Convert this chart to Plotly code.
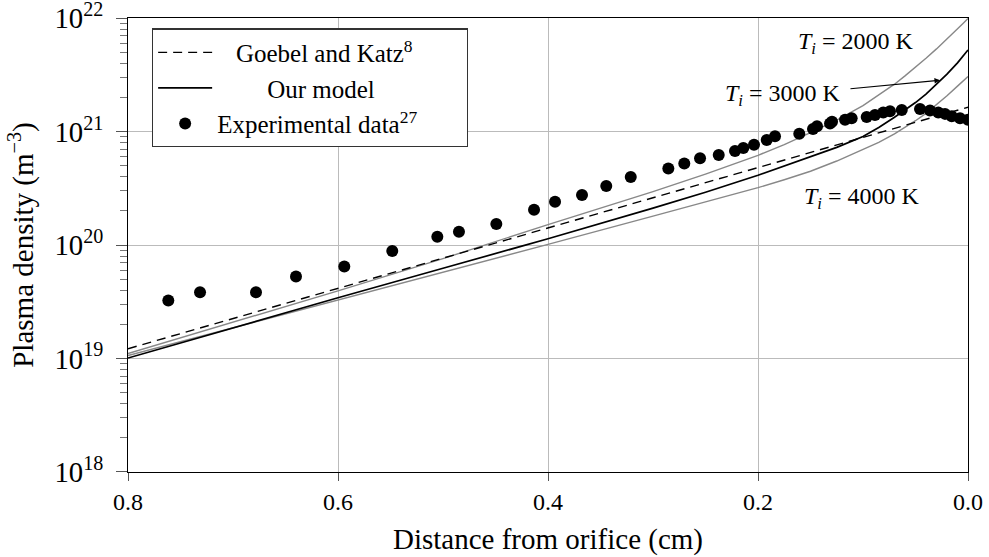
import plotly.graph_objects as go

# ---------------- data ----------------
x_model = [0.8, 0.7, 0.6, 0.5, 0.4, 0.3, 0.25, 0.2, 0.175, 0.15, 0.125, 0.1, 0.085,
           0.07, 0.06, 0.05, 0.04, 0.03, 0.02, 0.01, 0.005, 0.0]
n_goebel = [1.219e19, 2.249e19, 4.150e19, 7.656e19, 1.413e20, 2.606e20, 3.540e20, 4.808e20,
            5.610e20, 6.531e20, 7.621e20, 8.872e20, 9.727e20, 1.067e21, 1.135e21, 1.205e21,
            1.282e21, 1.361e21, 1.449e21, 1.538e21, 1.589e21, 1.637e21]
n_2000 = [1.107e19, 2.089e19, 3.945e19, 7.586e19, 1.514e20, 2.951e20, 4.217e20, 6.166e20,
          7.674e20, 9.772e20, 1.259e21, 1.690e21, 2.089e21, 2.612e21, 3.090e21, 3.681e21,
          4.416e21, 5.346e21, 6.516e21, 8.017e21, 8.913e21, 9.908e21]
n_3000 = [1.009e19, 1.862e19, 3.428e19, 6.237e19, 1.135e20, 2.113e20, 2.917e20, 4.121e20,
          4.955e20, 5.957e20, 7.244e20, 9.016e20, 1.084e21, 1.334e21, 1.549e21, 1.799e21,
          2.138e21, 2.600e21, 3.199e21, 4.027e21, 4.571e21, 5.224e21]
n_4000 = [1.062e19, 1.862e19, 3.273e19, 5.754e19, 1.012e20, 1.799e20, 2.399e20, 3.199e20,
          3.758e20, 4.467e20, 5.495e20, 6.918e20, 8.035e20, 9.550e20, 1.084e21, 1.245e21,
          1.445e21, 1.718e21, 2.065e21, 2.512e21, 2.754e21, 3.048e21]

x_exp = [0.7616, 0.7314, 0.6781, 0.64, 0.594, 0.5483, 0.5054, 0.4848, 0.4492, 0.4133,
         0.3933, 0.3676, 0.3445, 0.3212, 0.2854, 0.2702, 0.2552, 0.2374, 0.2219, 0.2140,
         0.2038, 0.1917, 0.1838, 0.1607, 0.1476, 0.1438, 0.1314, 0.1295, 0.1171, 0.1108,
         0.0965, 0.0886, 0.0807, 0.0743, 0.0631, 0.0457, 0.0362, 0.0283, 0.0219, 0.0155,
         0.0076, 0.0]
n_exp = [3.24e19, 3.83e19, 3.83e19, 5.29e19, 6.48e19, 8.86e19, 1.18e20, 1.31e20, 1.53e20, 2.04e20,
         2.41e20, 2.76e20, 3.31e20, 3.97e20, 4.72e20, 5.22e20, 5.82e20, 6.22e20, 6.74e20, 7.17e20,
         7.66e20, 8.42e20, 9.08e20, 9.57e20, 1.05e21, 1.11e21, 1.175e21, 1.22e21, 1.27e21, 1.31e21,
         1.34e21, 1.40e21, 1.47e21, 1.51e21, 1.55e21, 1.58e21, 1.53e21, 1.47e21, 1.43e21, 1.36e21,
         1.31e21, 1.27e21]

x_ticks = [0.8, 0.6, 0.4, 0.2, 0.0]
x_ticklabels = ["0.8", "0.6", "0.4", "0.2", "0.0"]

FONT = "Liberation Serif"
FS = 24
LFS = 25
NB = "\u00a0"

fig = go.Figure()

fig.add_trace(go.Scatter(x=x_model, y=n_2000, mode="lines", showlegend=False,
                         line=dict(color="#888888", width=1.4)))
fig.add_trace(go.Scatter(x=x_model, y=n_4000, mode="lines", showlegend=False,
                         line=dict(color="#888888", width=1.4)))
fig.add_trace(go.Scatter(x=x_model, y=n_goebel, mode="lines",
                         name=NB * 3 + "Goebel and Katz<sup>8</sup>",
                         line=dict(color="black", width=1.4, dash="9px,6px")))
fig.add_trace(go.Scatter(x=x_model, y=n_3000, mode="lines",
                         name=NB * 8 + "Our model",
                         line=dict(color="black", width=1.7)))
fig.add_trace(go.Scatter(x=x_exp, y=n_exp, mode="markers",
                         name="Experimental data<sup>27</sup>" + NB * 7,
                         marker=dict(color="black", size=12, symbol="circle")))

ann_font = dict(family=FONT, size=FS, color="black")
fig.add_annotation(x=0.1067, y=21.776, xref="x", yref="y", showarrow=False,
                   text="<i>T</i><sub><i>i</i></sub> = 2000 K", font=ann_font)
fig.add_annotation(x=0.101, y=20.417, xref="x", yref="y", showarrow=False,
                   text="<i>T</i><sub><i>i</i></sub> = 4000 K", font=ann_font)
fig.add_annotation(x=0.0267, y=21.452, xref="x", yref="y",
                   ax=0.1762, ay=21.32, axref="x", ayref="y",
                   text="<i>T</i><sub><i>i</i></sub> = 3000 K", font=ann_font,
                   showarrow=True, arrowhead=2, arrowsize=1, arrowwidth=1.1,
                   arrowcolor="black", standoff=0, startstandoff=8)

fig.update_layout(
    width=989, height=557, autosize=False,
    margin=dict(l=128, r=21, t=18, b=85),
    paper_bgcolor="white", plot_bgcolor="white",
    font=dict(family=FONT, size=FS, color="black"),
    legend=dict(x=0.0285, y=0.977, xanchor="left", yanchor="top",
                bgcolor="white", bordercolor="#333333", borderwidth=1.2,
                itemwidth=54, font=dict(family=FONT, size=LFS)),
)

fig.update_xaxes(
    range=[0.8, 0.0], tickvals=x_ticks, ticktext=x_ticklabels,
    showgrid=True, gridcolor="#bbbbbb", gridwidth=1,
    showline=True, linecolor="black", linewidth=1.3, mirror=True,
    ticks="outside", ticklen=8, tickcolor="#555555",
    ticklabeloverflow="allow", automargin=False,
    title=dict(text="Distance from orifice (cm)", standoff=14),
    zeroline=False,
)
fig.update_yaxes(
    type="log", range=[17.9999, 22.0001], dtick=1, exponentformat="power",
    tickfont=dict(family=FONT, size=23),
    showgrid=True, gridcolor="#bbbbbb", gridwidth=1,
    showline=True, linecolor="black", linewidth=1.3, mirror=True,
    ticks="outside", ticklen=11, tickcolor="#555555", ticklabelstandoff=8,
    ticklabeloverflow="allow", automargin=False,
    minor=dict(dtick="D1", ticks="outside", ticklen=7, tickcolor="#777777", showgrid=False),
    title=dict(text="Plasma density (m<sup>−3</sup>)", standoff=12),
    zeroline=False,
)

fig.write_html("out.html",
               config={"displayModeBar": False},
               post_script="document.body.style.margin='0px';"
                           "document.documentElement.style.overflow='hidden';")
